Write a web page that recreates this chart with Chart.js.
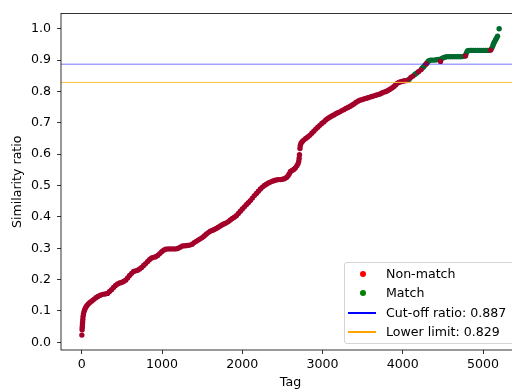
<!DOCTYPE html>
<html>
<head>
<meta charset="utf-8">
<script src="https://cdn.jsdelivr.net/npm/chart.js@4"></script>
<style>
  html, body { margin: 0; padding: 0; overflow: hidden; background: #fff; }
  #wrap { position: relative; width: 524px; height: 392px; }
  #legend {
    position: absolute; left: 344px; top: 262px; width: 168px; height: 80px;
    border: 1px solid #d4d4d4; border-radius: 3px; background: rgba(255,255,255,0.8);
    font-family: 'DejaVu Sans'; font-size: 12.6px; color: #000;
  }
  #legend .row { position: absolute; left: 0; height: 16px; line-height: 16px; }
  #legend .txt { position: absolute; left: 41px; white-space: nowrap; }
  #legend .dot { position: absolute; left: 15px; top: 5px; width: 6px; height: 6px; border-radius: 50%; }
  #legend .ln { position: absolute; left: 3px; top: 7px; width: 28px; height: 2px; }
</style>
</head>
<body>
<div id="wrap">
  <canvas id="c" width="524" height="392"></canvas>
  <div id="legend"></div>
</div>
<script>
// non-match points (tag, similarity ratio)
const nmTag = [0,3,5,7,9,12,15,20,27,36,48,62,80,100,125,150,175,200,230,260,290,320,345,370,395,420,445,470,495,520,545,570,595,620,645,670,695,720,745,770,795,820,845,870,895,920,945,970,995,1020,1045,1075,1105,1135,1165,1195,1225,1255,1285,1315,1345,1375,1400,1425,1450,1475,1500,1525,1550,1575,1600,1625,1650,1675,1700,1725,1750,1775,1800,1825,1850,1875,1900,1925,1950,1975,2000,2025,2050,2075,2100,2125,2150,2175,2200,2225,2250,2275,2300,2325,2350,2375,2400,2425,2450,2475,2500,2525,2550,2570,2585,2600,2620,2640,2660,2680,2695,2703,2708,2712,2718,2722,2730,2745,2765,2790,2815,2840,2865,2890,2915,2940,2965,2990,3015,3040,3065,3090,3115,3140,3165,3190,3215,3240,3265,3290,3315,3340,3365,3390,3415,3440,3465,3490,3515,3540,3565,3590,3615,3640,3665,3690,3715,3740,3765,3790,3815,3840,3865,3890,3910,3930,3950,3975,4000,4025,4050,4100,4125,4195,4225,4290,4470,4780,5095];
const nmRatio = [0.023,0.040,0.048,0.056,0.064,0.073,0.082,0.090,0.098,0.105,0.111,0.117,0.122,0.127,0.132,0.137,0.142,0.146,0.150,0.153,0.154,0.156,0.162,0.168,0.175,0.181,0.186,0.189,0.191,0.194,0.198,0.205,0.213,0.220,0.226,0.228,0.230,0.234,0.239,0.245,0.251,0.258,0.264,0.269,0.271,0.273,0.277,0.283,0.289,0.294,0.297,0.298,0.298,0.298,0.298,0.299,0.303,0.307,0.308,0.309,0.310,0.313,0.318,0.322,0.326,0.330,0.334,0.339,0.345,0.350,0.354,0.357,0.360,0.363,0.367,0.371,0.375,0.378,0.381,0.385,0.390,0.395,0.399,0.404,0.411,0.418,0.425,0.432,0.439,0.445,0.452,0.460,0.468,0.475,0.482,0.489,0.495,0.500,0.504,0.508,0.511,0.514,0.516,0.518,0.519,0.519,0.520,0.522,0.526,0.531,0.538,0.545,0.548,0.551,0.556,0.563,0.570,0.578,0.587,0.598,0.618,0.627,0.634,0.640,0.645,0.650,0.655,0.660,0.667,0.673,0.680,0.686,0.692,0.698,0.703,0.709,0.714,0.718,0.722,0.725,0.729,0.732,0.735,0.739,0.742,0.746,0.749,0.752,0.756,0.760,0.765,0.769,0.772,0.774,0.776,0.778,0.780,0.782,0.784,0.786,0.788,0.790,0.792,0.795,0.798,0.800,0.803,0.807,0.811,0.816,0.821,0.826,0.829,0.831,0.833,0.834,0.835,0.845,0.849,0.863,0.869,0.888,0.896,0.913,0.932];

// match points
const mTag = [4065,4080,4150,4170,4240,4258,4275,4298,4312,4325,4345,4370,4395,4420,4445,4470,4492,4510,4530,4555,4580,4605,4630,4655,4680,4705,4730,4755,4785,4797,4808,4830,4855,4880,4905,4930,4955,4980,5005,5030,5055,5075,5108,5122,5130,5142,5155,5167,5180,5200];
const mRatio = [0.836,0.839,0.854,0.858,0.874,0.878,0.884,0.890,0.895,0.898,0.900,0.900,0.900,0.901,0.902,0.903,0.906,0.908,0.910,0.911,0.911,0.911,0.911,0.911,0.911,0.911,0.911,0.912,0.918,0.925,0.930,0.931,0.931,0.931,0.931,0.931,0.931,0.931,0.931,0.931,0.931,0.931,0.938,0.946,0.952,0.958,0.964,0.970,0.976,1.000];

const cutOff = 0.887;
const lowerLimit = 0.829;
const xTicks = [0, 1000, 2000, 3000, 4000, 5000];
const yTicks = [0.0, 0.1, 0.2, 0.3, 0.4, 0.5, 0.6, 0.7, 0.8, 0.9, 1.0];
const xMin = -260, xMax = 5460;
const yMin = -0.0245, yMax = 1.0485;

const legendItems = [
  {label: 'Non-match', kind: 'dot', color: '#ff0000'},
  {label: 'Match', kind: 'dot', color: '#008000'},
  {label: 'Cut-off ratio: ' + cutOff, kind: 'line', color: '#0000ff'},
  {label: 'Lower limit: ' + lowerLimit, kind: 'line', color: '#ffa500'}
];

Chart.defaults.font.family = 'DejaVu Sans';
Chart.defaults.font.size = 12.6;
Chart.defaults.color = '#000';

const toPts = (xs, ys) => xs.map((x, i) => ({x: x, y: ys[i]}));

const frame = {
  id: 'frame',
  afterDraw(chart) {
    const {ctx, chartArea: a} = chart;
    ctx.save();
    ctx.strokeStyle = '#000';
    ctx.lineWidth = 0.8;
    ctx.strokeRect(a.left, a.top, a.right - a.left, a.bottom - a.top);
    ctx.restore();
  }
};

new Chart(document.getElementById('c'), {
  type: 'scatter',
  data: {
    datasets: [
      {label: 'Cut-off', type: 'line', data: [{x: xMin, y: cutOff}, {x: xMax, y: cutOff}],
       borderColor: 'rgba(0,0,255,0.36)', borderWidth: 1.6, pointRadius: 0, order: 0},
      {label: 'Lower', type: 'line', data: [{x: xMin, y: lowerLimit}, {x: xMax, y: lowerLimit}],
       borderColor: '#ffbf40', borderWidth: 1, pointRadius: 0, order: 0},
      {label: 'Non-match', data: toPts(nmTag, nmRatio), backgroundColor: '#a3002a', borderColor: '#a3002a',
       borderWidth: 0, pointRadius: 2.7, order: 1},
      {label: 'Match', data: toPts(mTag, mRatio), backgroundColor: '#006a2e', borderColor: '#006a2e',
       borderWidth: 0, pointRadius: 2.7, order: 2}
    ]
  },
  options: {
    responsive: false,
    animation: false,
    devicePixelRatio: 1,
    layout: {padding: {left: 0, right: 4, top: 9, bottom: 0}},
    plugins: {legend: {display: false}, tooltip: {enabled: false}},
    scales: {
      x: {
        type: 'linear', min: xMin, max: xMax,
        afterBuildTicks: ax => { ax.ticks = xTicks.map(v => ({value: v})); },
        afterFit: ax => { ax.height = 42; },
        ticks: {padding: 3, callback: v => String(v), maxRotation: 0},
        grid: {drawOnChartArea: false, drawTicks: true, tickLength: 4, color: '#000', lineWidth: 0.8},
        border: {display: false},
        title: {display: true, text: 'Tag', padding: {top: 0, bottom: 2}}
      },
      y: {
        type: 'linear', min: yMin, max: yMax,
        afterBuildTicks: ax => { ax.ticks = yTicks.map(v => ({value: v})); },
        afterFit: ax => { ax.width = 61; },
        ticks: {padding: 6, callback: v => v.toFixed(1)},
        grid: {drawOnChartArea: false, drawTicks: true, tickLength: 4, color: '#000', lineWidth: 0.8},
        border: {display: false},
        title: {display: true, text: 'Similarity ratio', padding: {top: 10, bottom: 0}}
      }
    }
  },
  plugins: [frame]
});

// legend box
const lg = document.getElementById('legend');
legendItems.forEach((it, i) => {
  const row = document.createElement('div');
  row.className = 'row';
  row.style.top = (3 + i * 19.3) + 'px';
  row.style.width = '168px';
  const mark = document.createElement('div');
  mark.className = it.kind === 'dot' ? 'dot' : 'ln';
  mark.style.background = it.color;
  const txt = document.createElement('span');
  txt.className = 'txt';
  txt.textContent = it.label;
  row.appendChild(mark);
  row.appendChild(txt);
  lg.appendChild(row);
});
</script>
</body>
</html>
